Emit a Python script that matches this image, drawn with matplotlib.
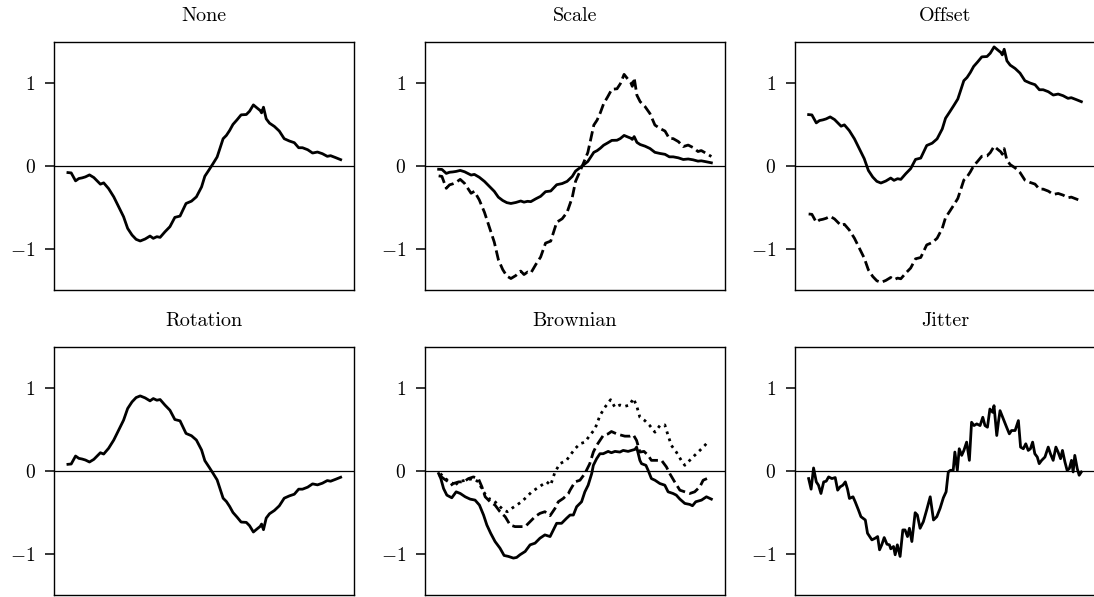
import matplotlib
matplotlib.use("Agg")
import matplotlib.pyplot as plt
import numpy as np

plt.rcParams["font.family"] = "serif"
plt.rcParams["font.serif"] = ["cmr10"]
plt.rcParams["mathtext.fontset"] = "cm"
plt.rcParams["axes.formatter.use_mathtext"] = True

t_base = [0, 1.2, 2.8, 4.0, 5.2, 6.4, 7.9, 9.5, 11.9, 13.1, 14.9, 16.8, 18.6, 20.4, 21.9,
          23.5, 25.0, 26.5, 28.3, 30.1, 31.3, 32.6, 33.8, 35.6, 37.4, 39.2, 41.1, 43.3,
          45.3, 47.1, 49.0, 50.2, 51.8, 53.2, 54.7, 55.7, 56.9, 58.1, 59.3, 60.5, 62.0,
          63.5, 65.4, 66.6, 68.0, 69.3, 70.5, 71.0, 71.7, 72.7, 73.9, 75.7, 77.5, 79.3,
          81.2, 83.0, 84.6, 86.0, 87.9, 89.7, 91.5, 93.3, 95.1, 96.3, 98.2, 100]
v_base = [-0.08, -0.084, -0.18, -0.152, -0.144, -0.132, -0.108, -0.14, -0.22, -0.204,
          -0.273, -0.373, -0.493, -0.613, -0.754, -0.834, -0.886, -0.906, -0.882, -0.846,
          -0.874, -0.854, -0.862, -0.794, -0.733, -0.621, -0.605, -0.453, -0.425, -0.373,
          -0.253, -0.124, -0.044, 0.028, 0.108, 0.208, 0.329, 0.369, 0.429, 0.501,
          0.557, 0.617, 0.621, 0.661, 0.737, 0.701, 0.669, 0.641, 0.709, 0.569,
          0.517, 0.477, 0.421, 0.329, 0.301, 0.281, 0.22, 0.22, 0.196, 0.156,
          0.168, 0.148, 0.116, 0.124, 0.1, 0.076]

scale_factors = [0.5, 1.5]
offsets = [0.7, -0.5]
rotation_sign = -1

# brownian: three walks
t_brown1 = [0.4, 1.2, 2.2, 3.4, 5.2, 6.8, 8.3, 10.1, 11.9, 13.7, 15.3, 16.8, 18.0, 19.4,
            21.0, 22.8, 24.3, 25.9, 27.7, 28.9, 30.1, 32.0, 33.8, 35.6, 37.4, 39.2, 41.1,
            42.3, 43.5, 45.3, 47.1, 48.4, 49.6, 50.8, 52.6, 53.8, 55.0, 56.3, 56.9, 58.1,
            59.3, 60.5, 62.3, 63.5, 64.8, 66.6, 67.8, 69.6, 70.8, 72.1, 72.7, 73.3, 73.9,
            74.5, 76.1, 76.9, 78.1, 79.4, 81.2, 83.0, 84.2, 86.0, 87.2, 88.5, 90.3, 92.1,
            93.1, 94.3, 96.4, 98.2, 100]
v_brown1 = [-0.032, -0.092, -0.212, -0.292, -0.324, -0.252, -0.272, -0.312, -0.34, -0.352,
            -0.412, -0.532, -0.652, -0.752, -0.852, -0.932, -1.02, -1.032, -1.052, -1.044,
            -1.012, -0.972, -0.892, -0.872, -0.812, -0.772, -0.792, -0.712, -0.632, -0.632,
            -0.572, -0.532, -0.532, -0.432, -0.372, -0.252, -0.172, -0.032, 0.068, 0.148,
            0.208, 0.208, 0.236, 0.22, 0.236, 0.228, 0.248, 0.236, 0.248, 0.26,
            0.288, 0.208, 0.128, 0.088, 0.068, 0.008, -0.092, -0.112, -0.152, -0.172,
            -0.252, -0.272, -0.292, -0.34, -0.392, -0.404, -0.42, -0.372, -0.352, -0.312,
            -0.34]
t_brown2 = [0.7, 2.2, 4.0, 5.8, 7.7, 9.5, 11.3, 13.1, 14.9, 16.2, 17.4, 19.2, 21.0, 22.8,
            24.7, 26.5, 28.3, 30.1, 32.0, 33.8, 35.6, 37.4, 39.2, 41.1, 42.9, 44.1, 45.9,
            47.8, 48.4, 50.2, 52.0, 53.8, 55.6, 56.9, 58.1, 59.3, 60.5, 62.3, 63.5, 65.4,
            66.6, 68.4, 70.2, 71.5, 72.7, 73.9, 75.4, 76.9, 78.1, 79.9, 81.8, 83.6, 84.8,
            86.6, 88.5, 90.3, 92.1, 93.9, 95.8, 97.0, 98.4]
v_brown2 = [-0.052, -0.092, -0.132, -0.152, -0.132, -0.132, -0.092, -0.072, -0.092, -0.192,
            -0.312, -0.372, -0.412, -0.492, -0.552, -0.652, -0.672, -0.672, -0.672, -0.612,
            -0.552, -0.512, -0.492, -0.54, -0.452, -0.372, -0.332, -0.272, -0.232, -0.132,
            -0.112, -0.032, 0.088, 0.228, 0.308, 0.368, 0.428, 0.448, 0.476, 0.448,
            0.436, 0.42, 0.42, 0.436, 0.368, 0.228, 0.236, 0.188, 0.128, 0.128,
            0.128, 0.048, -0.032, -0.132, -0.232, -0.252, -0.272, -0.252, -0.192, -0.112,
            -0.092]
t_brown3 = [1.0, 2.8, 4.6, 5.8, 7.7, 10.1, 13.1, 14.9, 16.8, 18.6, 20.4, 22.2, 24.1, 25.5,
            27.1, 28.9, 30.7, 32.6, 34.4, 36.2, 38.0, 39.9, 41.3, 42.9, 44.7, 47.1, 48.4,
            50.2, 52.0, 53.8, 55.6, 57.5, 59.3, 61.1, 63.2, 64.8, 66.6, 68.4, 70.2, 71.5,
            72.7, 73.9, 75.7, 77.5, 79.4, 81.2, 83.0, 84.2, 85.4, 87.2, 89.0, 90.3, 92.1,
            93.9, 95.8, 97.6, 99.2]
v_brown3 = [-0.032, -0.092, -0.132, -0.192, -0.132, -0.112, -0.092, -0.132, -0.252, -0.332,
            -0.352, -0.412, -0.472, -0.492, -0.452, -0.412, -0.372, -0.312, -0.252, -0.212,
            -0.172, -0.132, -0.172, -0.012, 0.088, 0.128, 0.188, 0.268, 0.328, 0.348,
            0.428, 0.508, 0.668, 0.768, 0.86, 0.768, 0.796, 0.78, 0.796, 0.876,
            0.788, 0.648, 0.608, 0.548, 0.468, 0.548, 0.556, 0.428, 0.308, 0.228,
            0.128, 0.068, 0.128, 0.188, 0.248, 0.308, 0.368]

# jitter
t_jit = [0, 0.9, 1.8, 2.8, 3.6, 4.5, 5.5, 6.4, 7.3, 8.5, 9.7, 10.6, 11.5, 12.5, 13.4, 14.2,
         14.9, 16.2, 17.0, 18.2, 19.1, 20.7, 21.5, 23.1, 24.3, 25.2, 25.9, 26.7, 27.6, 28.6,
         29.5, 30.0, 31.0, 31.6, 32.4, 33.4, 34.4, 35.2, 36.1, 36.8, 37.7, 38.9, 39.7, 40.7,
         41.9, 43.1, 44.4, 45.6, 46.8, 48.0, 49.2, 50.2, 51.0, 51.8, 52.8, 53.4, 54.3, 55.0,
         55.9, 56.7, 57.7, 58.7, 59.5, 60.4, 61.4, 62.6, 63.6, 64.4, 65.3, 66.2, 67.2, 67.7,
         68.7, 69.3, 69.9, 71.1, 72.3, 73.3, 74.1, 75.4, 76.6, 77.4, 78.4, 79.3, 80.2, 81.0,
         81.8, 82.6, 83.5, 84.2, 85.1, 86.3, 87.5, 88.3, 89.3, 90.3, 91.1, 92.0, 92.7, 93.6,
         94.4, 95.2, 96.0, 96.6, 97.2, 98.1, 98.8, 99.6]
v_jit = [-0.092, -0.22, 0.036, -0.132, -0.172, -0.272, -0.132, -0.124, -0.072, -0.092,
         -0.08, -0.232, -0.192, -0.172, -0.132, -0.22, -0.332, -0.312, -0.372, -0.472,
         -0.552, -0.592, -0.752, -0.832, -0.812, -0.792, -0.952, -0.892, -0.804, -0.884,
         -0.892, -0.94, -0.912, -1.012, -0.892, -1.032, -0.712, -0.712, -0.792, -0.692,
         -0.852, -0.504, -0.532, -0.692, -0.612, -0.472, -0.312, -0.592, -0.552, -0.452,
         -0.324, -0.252, -0.012, 0.008, 0.008, 0.228, 0.008, 0.268, 0.188, 0.248,
         0.348, 0.128, 0.588, 0.548, 0.568, 0.548, 0.648, 0.548, 0.528, 0.748,
         0.708, 0.788, 0.428, 0.588, 0.728, 0.628, 0.528, 0.448, 0.488, 0.488,
         0.608, 0.288, 0.268, 0.328, 0.248, 0.268, 0.348, 0.208, 0.168, 0.088,
         0.128, 0.168, 0.288, 0.208, 0.128, 0.288, 0.228, 0.148, 0.248, 0.108,
         0.008, 0.028, 0.128, -0.012, 0.188, 0.028, -0.052, -0.012]

titles = ["None", "Scale", "Offset", "Rotation", "Brownian", "Jitter"]

base = np.array(v_base)
panels = [
    [(t_base, base, "-")],
    [(t_base, base * scale_factors[0], "-"), (t_base, base * scale_factors[1], "--")],
    [(t_base, base + offsets[0], "-"), (t_base, base + offsets[1], "--")],
    [(t_base, base * rotation_sign, "-")],
    [(t_brown1, v_brown1, "-"), (t_brown2, v_brown2, "--"), (t_brown3, v_brown3, ":")],
    [(t_jit, v_jit, "-")],
]

fig = plt.figure(figsize=(10.94, 5.97), dpi=100)
lefts = [54.3, 425, 795]
tops = [41.7, 346.7]
w, h = 300, 248.5

for i, (title, lines) in enumerate(zip(titles, panels)):
    r, c = divmod(i, 3)
    ax = fig.add_axes([lefts[c] / 1094, 1 - (tops[r] + h) / 597, w / 1094, h / 597])
    ax.axhline(0, color="black", lw=0.9)
    for t, v, ls in lines:
        ax.plot(t, v, color="black", ls=ls, lw=2.0)
    ax.set_ylim(-1.5, 1.5)
    ax.set_yticks([-1, 0, 1])
    ax.set_xticks([])
    ax.tick_params(axis="y", labelsize=14, length=6.5, width=1.1, pad=7)
    for s in ax.spines.values():
        s.set_linewidth(1.0)
    ax.set_title(title, fontsize=14.5, pad=15)

fig.savefig("out.png", dpi=100)
